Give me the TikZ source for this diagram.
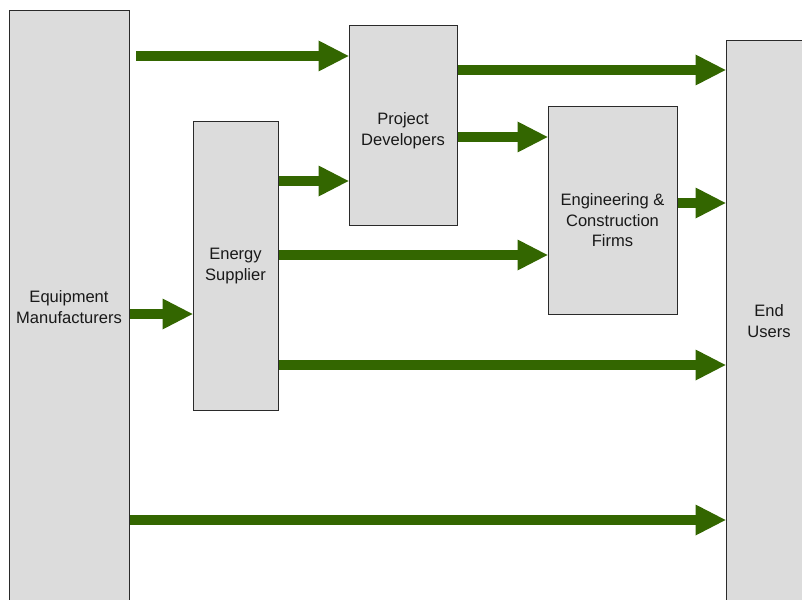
\documentclass[tikz,border=0pt]{standalone}
\usepackage{fontspec}
\setmainfont{Liberation Sans}
\usetikzlibrary{arrows.meta}
\definecolor{flowgreen}{HTML}{336600}
\definecolor{boxgray}{HTML}{DCDCDC}
\definecolor{boxline}{HTML}{2A2A2A}
\tikzset{
  box/.style={draw=boxline, line width=0.75pt, fill=boxgray, rectangle, inner sep=0pt},
  lbl/.style={font=\fontsize{12.4pt}{15.4pt}\selectfont, align=center, text=black!90},
  flow/.style={draw=flowgreen, line width=7.5pt,
    -{Triangle[width=23.25pt, length=22.5pt, line width=0pt, fill=flowgreen]}}
}
\begin{document}
\begin{tikzpicture}[x=0.75pt, y=-0.75pt]
\useasboundingbox (0,0) rectangle (802,599);
\clip (0,0) rectangle (802,599);
% Boxes (the two tall ones run past the page edge)
\node[box, minimum width=90pt, minimum height=444pt,
  label={[lbl]center:Equipment\\Manufacturers}] (em) at (69,307) {};
\node[box, minimum width=63.75pt, minimum height=216pt,
  label={[lbl]center:Energy\\Supplier}] (es) at (235.5,266) {};
\node[box, minimum width=81pt, minimum height=149.25pt,
  label={[lbl, yshift=-3.75pt]center:Project\\Developers}] (pd) at (403,125.5) {};
\node[box, minimum width=96.75pt, minimum height=155.25pt,
  label={[lbl, yshift=-7.5pt]center:Engineering \&\\Construction\\Firms}] (ec) at (612.5,210.5) {};
\node[box, minimum width=64.5pt, minimum height=420pt,
  label={[lbl]center:End\\Users}] (eu) at (769,321) {};
% Free start of the top arrow
\coordinate (top) at (136,56);
% Flows
\draw[flow] (top) -- (pd.west |- top);
\draw[flow] (pd.east |- 0,70) -- (eu.west |- 0,70);
\draw[flow] (pd.east |- 0,137) -- (ec.west |- 0,137);
\draw[flow] (es.east |- 0,181) -- (pd.west |- 0,181);
\draw[flow] (ec.east |- 0,203) -- (eu.west |- 0,203);
\draw[flow] (es.east |- 0,255) -- (ec.west |- 0,255);
\draw[flow] (em.east |- 0,314) -- (es.west |- 0,314);
\draw[flow] (es.east |- 0,365) -- (eu.west |- 0,365);
\draw[flow] (em.east |- 0,520) -- (eu.west |- 0,520);
\end{tikzpicture}
\end{document}
